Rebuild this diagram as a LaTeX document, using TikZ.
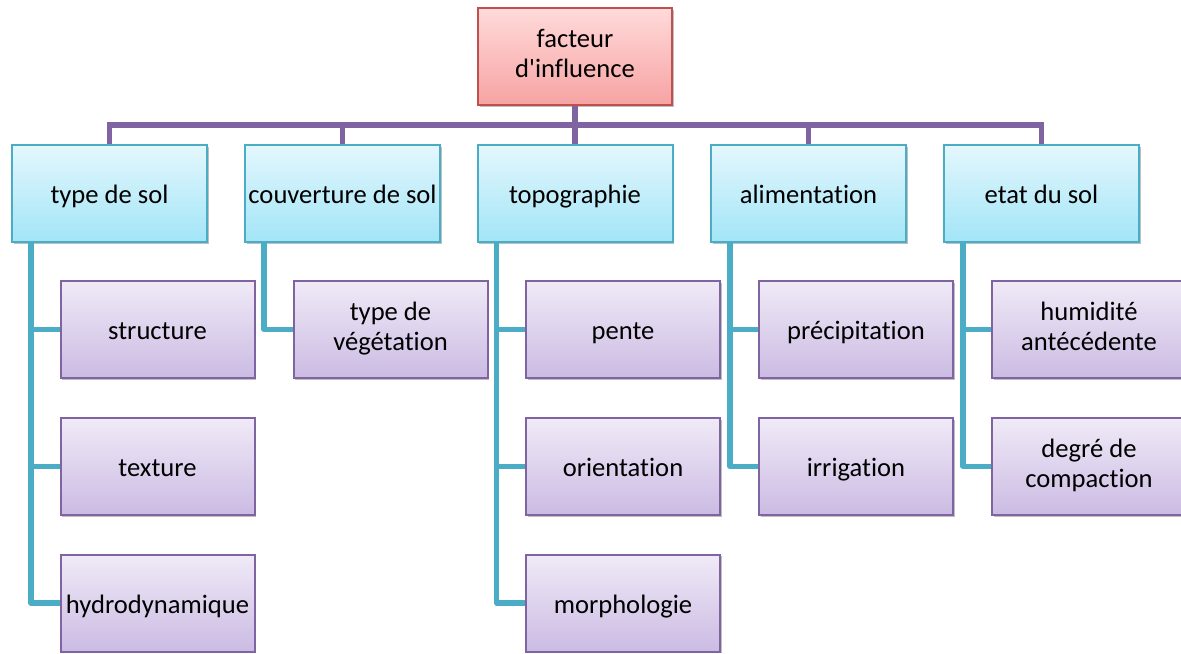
\documentclass[tikz,border=0pt]{standalone}
\usepackage{fontspec}
\setmainfont[Ligatures={NoCommon}]{Carlito}
\usetikzlibrary{shadows}
\definecolor{rootdraw}{HTML}{C0504D}
\definecolor{roottop}{HTML}{FFDADA}
\definecolor{rootbot}{HTML}{F7A3A3}
\definecolor{catdraw}{HTML}{4BACC6}
\definecolor{cattop}{HTML}{E4F7FD}
\definecolor{catbot}{HTML}{A2E5F7}
\definecolor{subdraw}{HTML}{8064A2}
\definecolor{subtop}{HTML}{F0EAF7}
\definecolor{subbot}{HTML}{CBBBE3}
% two centred lines inside one box
\newcommand\twolines[2]{\raisebox{-1pt}{\begin{tabular}{@{}c@{}}#1\\#2\end{tabular}}}
\tikzset{
  box/.style={draw, line width=1pt, inner sep=1pt,
    font=\fontsize{13.3}{15.2}\selectfont,
    execute at begin node={\rule{0pt}{14.6pt}}, execute at end node={\strut},
    drop shadow={shadow xshift=0.9pt, shadow yshift=-0.9pt, opacity=0.25, fill=black}},
  rootbox/.style={box, draw=rootdraw, top color=roottop, bottom color=rootbot,
    minimum width=97pt, minimum height=48.5pt},
  catbox/.style={box, draw=catdraw, top color=cattop, bottom color=catbot,
    minimum width=97.5pt, minimum height=48.5pt},
  subbox/.style={box, draw=subdraw, top color=subtop, bottom color=subbot,
    minimum width=97pt, minimum height=48.5pt},
  bus/.style={draw=subdraw, line width=2.6pt},
  link/.style={draw=catdraw, line width=2.6pt, line join=round}
}
\begin{document}
\begin{tikzpicture}[x=0.5pt, y=-0.5pt]
\useasboundingbox (0,0) rectangle (1181,653);

% level of the horizontal bus
\coordinate (busy) at (0,125);

% root and categories
\node[rootbox] (root) at (575,56.5) {\twolines{facteur}{d\textquotesingle influence}};
\node[catbox] (sol)  at (109.5,193.5) {type de sol};
\node[catbox] (couv) at (342.5,193.5) {couverture de sol};
\node[catbox] (topo) at (575,193.5) {topographie};
\node[catbox] (alim) at (808.5,193.5) {alimentation};
\node[catbox] (etat) at (1041.5,193.5) {etat du sol};

% sub-factors
\node[subbox] (struct) at (157.5,329.5) {structure};
\node[subbox] (text)   at (157.5,466.5) {texture};
\node[subbox] (hydro)  at (157.5,603) {hydrodynamique};
\node[subbox] (veg)    at (390.5,329.5) {\twolines{type de}{végétation}};
\node[subbox] (pente)  at (623,329.5) {pente};
\node[subbox] (orient) at (623,466.5) {orientation};
\node[subbox] (morph)  at (623,603) {morphologie};
\node[subbox] (precip) at (856,329.5) {précipitation};
\node[subbox] (irrig)  at (856,466.5) {irrigation};
\node[subbox] (humid)  at (1089,329.5) {\twolines{humidité}{antécédente}};
\node[subbox] (compac) at (1089,466.5) {\twolines{degré de}{compaction}};

% tree bus from the root to each category
\foreach \c in {sol,couv,topo,alim,etat}
  \draw[bus] (root.south) -- (root.south |- busy) -| (\c.north);

% category to sub-factor elbows
\foreach \p/\c in {sol/struct, sol/text, sol/hydro, couv/veg,
                   topo/pente, topo/orient, topo/morph,
                   alim/precip, alim/irrig, etat/humid, etat/compac}
  \draw[link] ([xshift=10pt]\p.south west) |- (\c.west);
\end{tikzpicture}
\end{document}
